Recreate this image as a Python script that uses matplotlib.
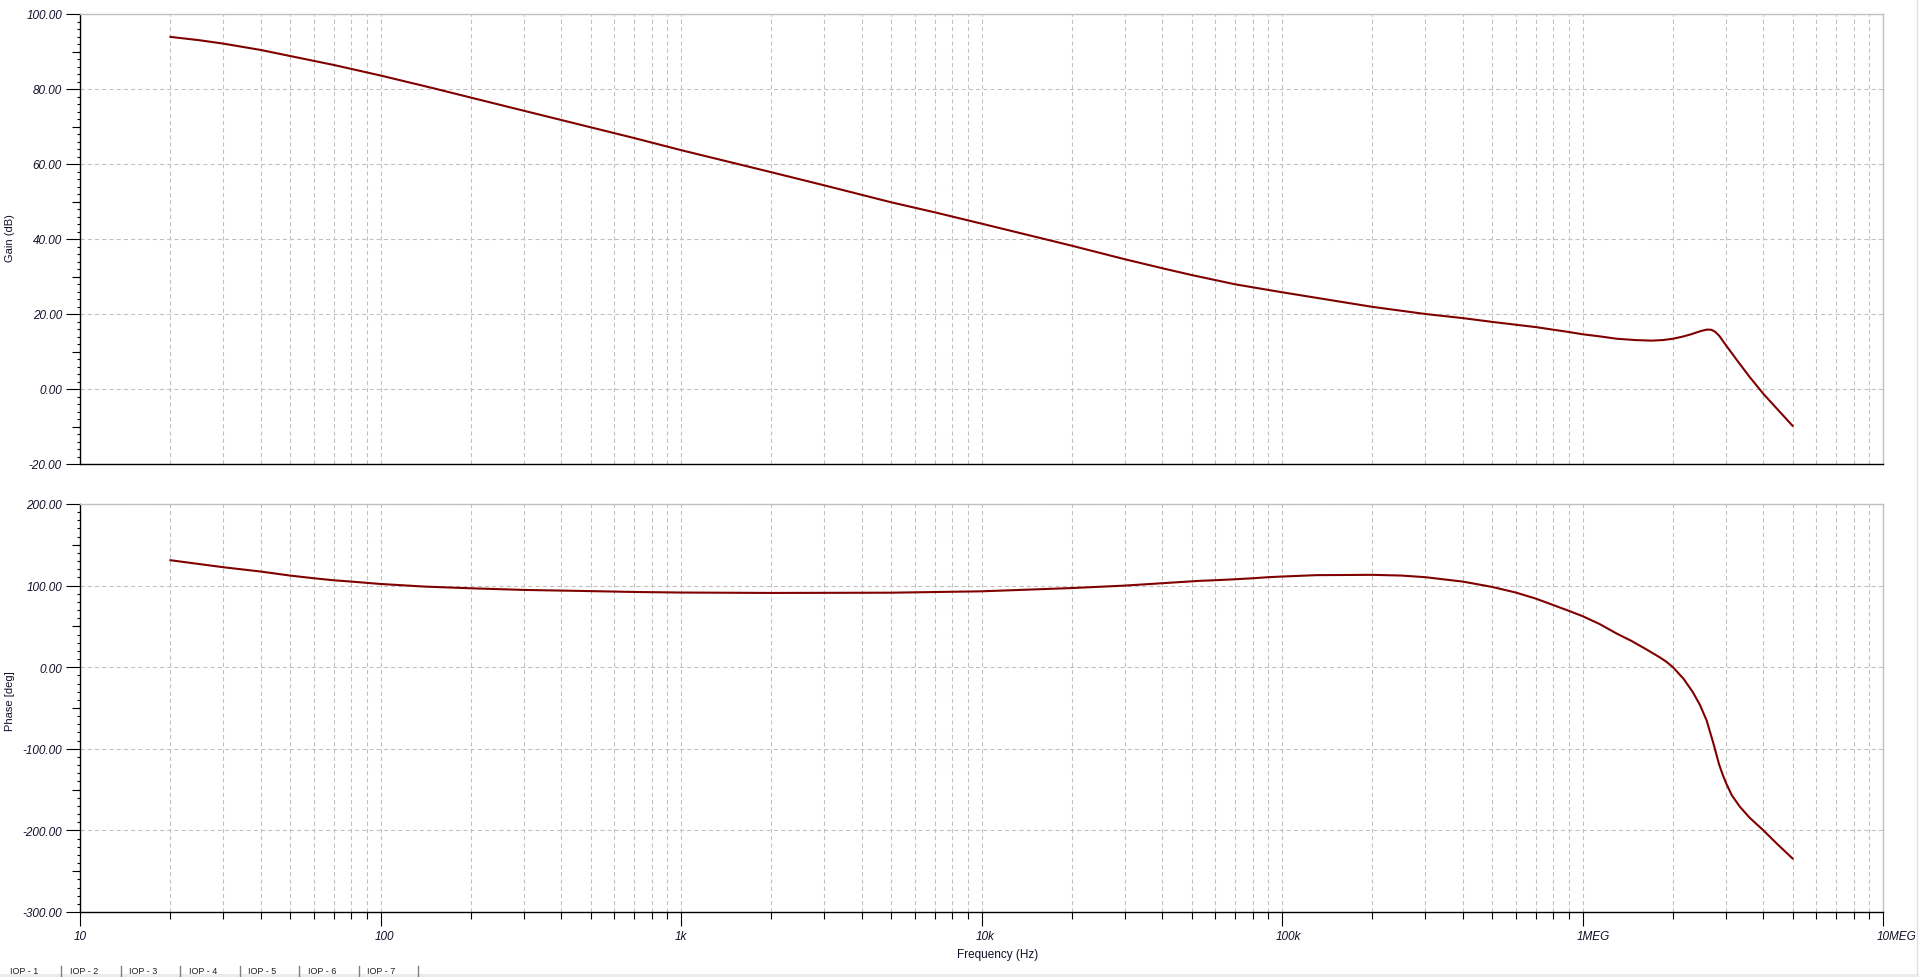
import matplotlib
matplotlib.use("Agg")
import matplotlib.pyplot as plt
import matplotlib.markers as mmarkers
from matplotlib.ticker import FixedLocator, FixedFormatter
from matplotlib.transforms import ScaledTranslation, blended_transform_factory

plt.rcParams['font.family'] = ['Liberation Sans', 'DejaVu Sans']
plt.rcParams['lines.scale_dashes'] = False

# --- data ---
gain_freq = [20, 25, 30, 40, 50, 70, 100, 150, 200, 300, 500, 700,
             1e3, 2e3, 3e3, 5e3, 7e3, 1e4, 2e4, 3e4, 4e4, 5e4, 7e4,
             1e5, 2e5, 3e5, 4e5, 5e5, 7e5, 9e5, 1e6, 1.15e6, 1.3e6, 1.5e6, 1.7e6, 1.85e6,
             2e6, 2.15e6, 2.3e6, 2.4e6, 2.5e6, 2.6e6, 2.68e6, 2.76e6, 2.85e6,
             3e6, 3.3e6, 3.6e6, 4e6, 4.5e6, 5e6]
gain_db = [93.9, 93.0, 92.1, 90.4, 88.8, 86.4, 83.6, 80.2, 77.7, 74.2, 69.8, 66.9,
           63.7, 57.8, 54.3, 49.8, 47.1, 44.1, 38.2, 34.6, 32.2, 30.4, 27.9,
           25.8, 21.9, 20.0, 18.9, 17.9, 16.5, 15.2, 14.6, 14.0, 13.4, 13.05, 12.9, 13.05,
           13.4, 13.95, 14.6, 15.1, 15.55, 15.85, 15.8, 15.3, 14.2,
           11.7, 7.2, 3.2, -1.3, -5.8, -9.8]

phase_freq = [20, 30, 40, 50, 60, 70, 80, 100, 140, 200,
              300, 460, 700, 1e3, 2e3, 5e3, 1e4, 2e4, 3e4, 5.3e4,
              6e4, 7e4, 8e4, 9e4, 1e5, 1.3e5, 2e5, 2.5e5, 3e5, 4e5,
              5e5, 6e5, 7e5, 8e5, 9e5, 1e6, 1.14e6, 1.3e6, 1.45e6, 1.62e6, 1.8e6, 1.9e6,
              2e6, 2.17e6, 2.33e6, 2.46e6, 2.59e6, 2.72e6, 2.85e6, 2.93e6, 3e6, 3.14e6, 3.34e6,
              3.6e6, 4e6, 4.45e6, 5e6]
phase_deg = [131.1, 122.5, 117.2, 112.3, 109.0, 106.5, 104.9, 102.0, 98.8, 96.7,
             94.7, 93.5, 92.2, 91.5, 91.0, 91.3, 93.0, 97.0, 100.0, 105.8,
             106.6, 107.8, 109.0, 110.3, 111.1, 112.8, 113.2, 112.3, 110.3, 104.9,
             98.4, 91.5, 84.0, 76.1, 69.1, 62.6, 52.9, 41.2, 32.5, 22.5, 12.5, 6.8,
             0.0, -14.3, -30.7, -46.3, -65.5, -92.0, -119.5, -132.0, -141.5, -157.0, -171.0,
             -184.5, -200.0, -216.8, -234.4]

x_major = [10, 100, 1e3, 1e4, 1e5, 1e6, 1e7]
x_labels = ["10", "100", "1k", "10k", "100k", "1MEG", "10MEG"]
x_minor = [m * d for d in [10, 100, 1e3, 1e4, 1e5, 1e6] for m in range(2, 10)]

gain_ticks = [-20, 0, 20, 40, 60, 80, 100]
phase_ticks = [-300, -200, -100, 0, 100, 200]

LINE = "#800000"
GRID = "#c0c0c0"
TXT = "#101028"

W, H = 1919, 978
fig = plt.figure(figsize=(W / 100, H / 100), dpi=100)
fig.patch.set_facecolor("white")


def fx(px):
    return px / W


def fy(px):
    return 1 - px / H


left, right = 80, 1883
ax1 = fig.add_axes([fx(left), fy(465), fx(right - left), (465 - 15) / H])
ax2 = fig.add_axes([fx(left), fy(913), fx(right - left), (913 - 505) / H])


def style_axis(ax, yticks, ystep_minor, mids):
    ax.set_xscale("log")
    ax.set_xlim(10, 1e7)
    ax.set_ylim(yticks[0], yticks[-1])
    ax.xaxis.set_major_locator(FixedLocator(x_major))
    ax.xaxis.set_minor_locator(FixedLocator(x_minor))
    ax.yaxis.set_major_locator(FixedLocator(yticks))
    minors = []
    v = yticks[0]
    while v < yticks[-1]:
        minors.append(v)
        v += ystep_minor
    ax.yaxis.set_minor_locator(FixedLocator(minors))
    ax.yaxis.set_major_formatter(FixedFormatter(["%.2f" % t for t in yticks]))
    ax.grid(True, which="both", axis="x", color=GRID, linestyle=(0, (3, 2.2)), linewidth=0.75)
    ax.grid(True, which="major", axis="y", color=GRID, linestyle=(0, (3, 2.2)), linewidth=0.75)
    ax.set_axisbelow(True)
    for s in ["top", "right"]:
        ax.spines[s].set_color(GRID)
        ax.spines[s].set_linewidth(1.0)
    for s in ["left", "bottom"]:
        ax.spines[s].set_color("black")
        ax.spines[s].set_linewidth(1.0)
    ax.tick_params(axis="y", which="major", length=10, width=0.8, pad=3,
                   labelsize=8.5, labelcolor=TXT, direction="out")
    ax.tick_params(axis="y", which="minor", length=2.5, width=0.8, direction="out")
    for lbl in ax.get_yticklabels():
        lbl.set_fontstyle("italic")
    # longer middle ticks
    tr = blended_transform_factory(ax.transAxes, ax.transData)
    for m in mids:
        ax.plot([0], [m], marker=mmarkers.TICKLEFT, markersize=5.8, mew=0.8,
                color="black", transform=tr, clip_on=False)


style_axis(ax1, gain_ticks, 2, [90, 70, 50, 30, 10, -10])
style_axis(ax2, phase_ticks, 10, [150, 50, -50, -150, -250])

ax1.tick_params(axis="x", which="both", length=0, labelbottom=False)

ax2.xaxis.set_major_formatter(FixedFormatter(x_labels))
ax2.xaxis.set_minor_formatter(FixedFormatter([""] * len(x_minor)))
ax2.tick_params(axis="x", which="major", length=10, width=0.8, pad=3,
                labelsize=8.5, labelcolor=TXT, direction="out")
ax2.tick_params(axis="x", which="minor", length=5, width=0.8, direction="out")
shift = ScaledTranslation(-6 / 100, 0, fig.dpi_scale_trans)
for lbl in ax2.get_xticklabels():
    lbl.set_fontstyle("italic")
    lbl.set_horizontalalignment("left")
    lbl.set_transform(lbl.get_transform() + shift)

ax1.plot(gain_freq, gain_db, color=LINE, linewidth=1.5)
ax2.plot(phase_freq, phase_deg, color=LINE, linewidth=1.5)

fig.text(fx(10), fy(238), "Gain (dB)", rotation=90, ha="center", va="center",
         fontsize=8, color=TXT)
fig.text(fx(10), fy(701), "Phase [deg]", rotation=90, ha="center", va="center",
         fontsize=8, color=TXT)
fig.text(fx(998), fy(955), "Frequency (Hz)", ha="center", va="center",
         fontsize=8.5, color=TXT)

# window frame remnants at the edges
fig.add_artist(plt.Line2D([fx(1917), fx(1917)], [fy(975), 1], color="#e0e0e0", linewidth=1))
fig.add_artist(plt.Rectangle((0, 0), 1, 3 / H, color="#ececec", linewidth=0))
tabs = ["IOP - %d" % i for i in range(1, 8)]
for i, t in enumerate(tabs):
    x0 = 10 + i * 59.5
    fig.text(fx(x0), fy(976.5), t, ha="left", va="bottom", fontsize=6.5, color="#202020")
    fig.add_artist(plt.Line2D([fx(x0 + 51), fx(x0 + 51)], [0, fy(967)], color="#808080", linewidth=1))

fig.savefig("out.png", dpi=100)
